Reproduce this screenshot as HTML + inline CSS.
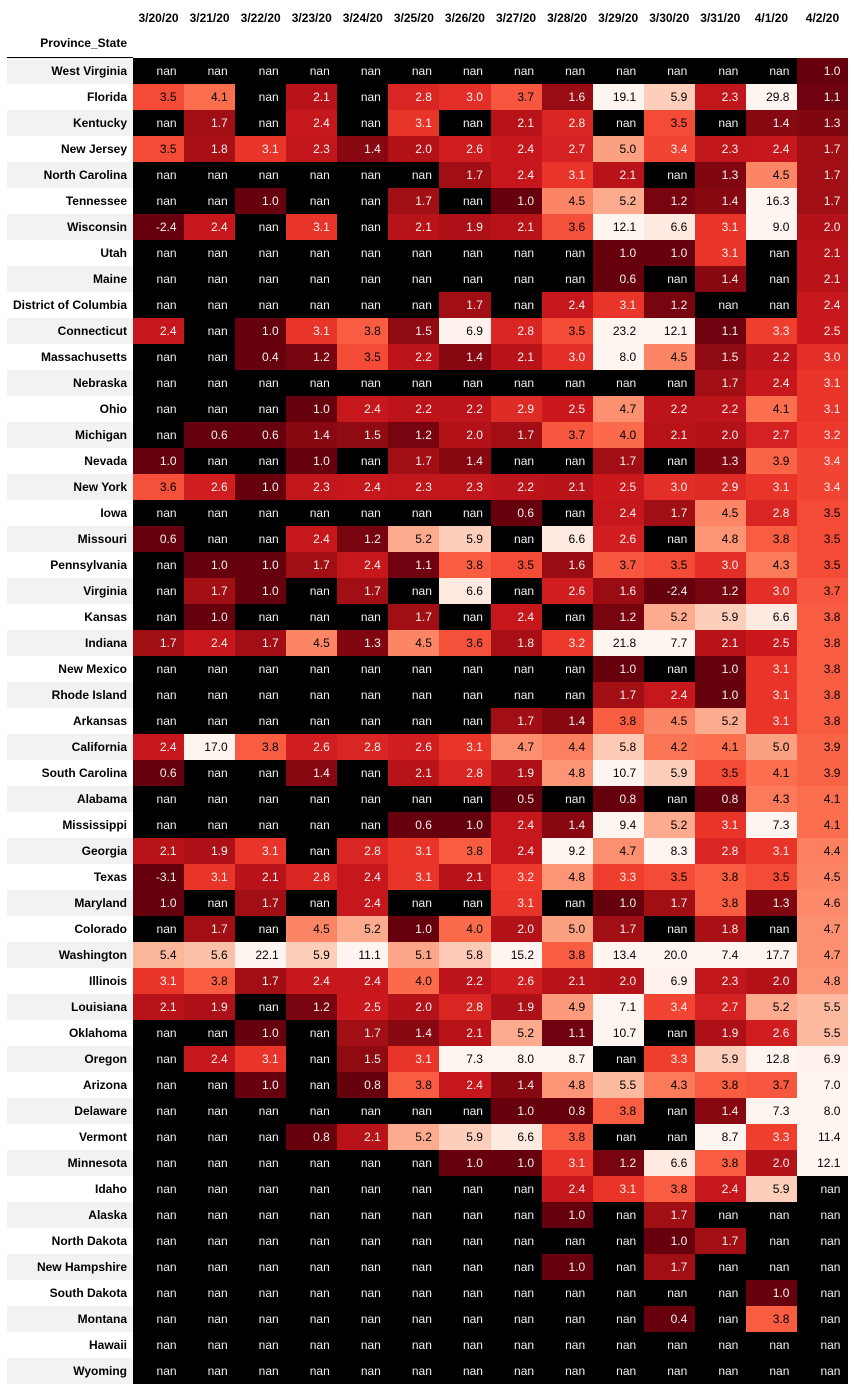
<!DOCTYPE html>
<html><head><meta charset="utf-8">
<style>
body{margin:0;width:854px;height:1390px;background:#fff;font-family:"Liberation Sans",Arial,sans-serif;position:relative;overflow:hidden}
.c{position:absolute;box-sizing:border-box;font-size:12px;line-height:26px;height:26px}
.h{position:absolute;font-size:12px;font-weight:bold;color:#000}
</style></head><body>
<div id="tbl"></div>
<script>
const dates=["3/20/20","3/21/20","3/22/20","3/23/20","3/24/20","3/25/20","3/26/20","3/27/20","3/28/20","3/29/20","3/30/20","3/31/20","4/1/20","4/2/20"];
const states=["West Virginia","Florida","Kentucky","New Jersey","North Carolina","Tennessee","Wisconsin","Utah","Maine","District of Columbia","Connecticut","Massachusetts","Nebraska","Ohio","Michigan","Nevada","New York","Iowa","Missouri","Pennsylvania","Virginia","Kansas","Indiana","New Mexico","Rhode Island","Arkansas","California","South Carolina","Alabama","Mississippi","Georgia","Texas","Maryland","Colorado","Washington","Illinois","Louisiana","Oklahoma","Oregon","Arizona","Delaware","Vermont","Minnesota","Idaho","Alaska","North Dakota","New Hampshire","South Dakota","Montana","Hawaii","Wyoming"];
const n=null;
const values=[
[n,n,n,n,n,n,n,n,n,n,n,n,n,1.0],
[3.5,4.1,n,2.1,n,2.8,3.0,3.7,1.6,19.1,5.9,2.3,29.8,1.1],
[n,1.7,n,2.4,n,3.1,n,2.1,2.8,n,3.5,n,1.4,1.3],
[3.5,1.8,3.1,2.3,1.4,2.0,2.6,2.4,2.7,5.0,3.4,2.3,2.4,1.7],
[n,n,n,n,n,n,1.7,2.4,3.1,2.1,n,1.3,4.5,1.7],
[n,n,1.0,n,n,1.7,n,1.0,4.5,5.2,1.2,1.4,16.3,1.7],
[-2.4,2.4,n,3.1,n,2.1,1.9,2.1,3.6,12.1,6.6,3.1,9.0,2.0],
[n,n,n,n,n,n,n,n,n,1.0,1.0,3.1,n,2.1],
[n,n,n,n,n,n,n,n,n,0.6,n,1.4,n,2.1],
[n,n,n,n,n,n,1.7,n,2.4,3.1,1.2,n,n,2.4],
[2.4,n,1.0,3.1,3.8,1.5,6.9,2.8,3.5,23.2,12.1,1.1,3.3,2.5],
[n,n,0.4,1.2,3.5,2.2,1.4,2.1,3.0,8.0,4.5,1.5,2.2,3.0],
[n,n,n,n,n,n,n,n,n,n,n,1.7,2.4,3.1],
[n,n,n,1.0,2.4,2.2,2.2,2.9,2.5,4.7,2.2,2.2,4.1,3.1],
[n,0.6,0.6,1.4,1.5,1.2,2.0,1.7,3.7,4.0,2.1,2.0,2.7,3.2],
[1.0,n,n,1.0,n,1.7,1.4,n,n,1.7,n,1.3,3.9,3.4],
[3.6,2.6,1.0,2.3,2.4,2.3,2.3,2.2,2.1,2.5,3.0,2.9,3.1,3.4],
[n,n,n,n,n,n,n,0.6,n,2.4,1.7,4.5,2.8,3.5],
[0.6,n,n,2.4,1.2,5.2,5.9,n,6.6,2.6,n,4.8,3.8,3.5],
[n,1.0,1.0,1.7,2.4,1.1,3.8,3.5,1.6,3.7,3.5,3.0,4.3,3.5],
[n,1.7,1.0,n,1.7,n,6.6,n,2.6,1.6,-2.4,1.2,3.0,3.7],
[n,1.0,n,n,n,1.7,n,2.4,n,1.2,5.2,5.9,6.6,3.8],
[1.7,2.4,1.7,4.5,1.3,4.5,3.6,1.8,3.2,21.8,7.7,2.1,2.5,3.8],
[n,n,n,n,n,n,n,n,n,1.0,n,1.0,3.1,3.8],
[n,n,n,n,n,n,n,n,n,1.7,2.4,1.0,3.1,3.8],
[n,n,n,n,n,n,n,1.7,1.4,3.8,4.5,5.2,3.1,3.8],
[2.4,17.0,3.8,2.6,2.8,2.6,3.1,4.7,4.4,5.8,4.2,4.1,5.0,3.9],
[0.6,n,n,1.4,n,2.1,2.8,1.9,4.8,10.7,5.9,3.5,4.1,3.9],
[n,n,n,n,n,n,n,0.5,n,0.8,n,0.8,4.3,4.1],
[n,n,n,n,n,0.6,1.0,2.4,1.4,9.4,5.2,3.1,7.3,4.1],
[2.1,1.9,3.1,n,2.8,3.1,3.8,2.4,9.2,4.7,8.3,2.8,3.1,4.4],
[-3.1,3.1,2.1,2.8,2.4,3.1,2.1,3.2,4.8,3.3,3.5,3.8,3.5,4.5],
[1.0,n,1.7,n,2.4,n,n,3.1,n,1.0,1.7,3.8,1.3,4.6],
[n,1.7,n,4.5,5.2,1.0,4.0,2.0,5.0,1.7,n,1.8,n,4.7],
[5.4,5.6,22.1,5.9,11.1,5.1,5.8,15.2,3.8,13.4,20.0,7.4,17.7,4.7],
[3.1,3.8,1.7,2.4,2.4,4.0,2.2,2.6,2.1,2.0,6.9,2.3,2.0,4.8],
[2.1,1.9,n,1.2,2.5,2.0,2.8,1.9,4.9,7.1,3.4,2.7,5.2,5.5],
[n,n,1.0,n,1.7,1.4,2.1,5.2,1.1,10.7,n,1.9,2.6,5.5],
[n,2.4,3.1,n,1.5,3.1,7.3,8.0,8.7,n,3.3,5.9,12.8,6.9],
[n,n,1.0,n,0.8,3.8,2.4,1.4,4.8,5.5,4.3,3.8,3.7,7.0],
[n,n,n,n,n,n,n,1.0,0.8,3.8,n,1.4,7.3,8.0],
[n,n,n,0.8,2.1,5.2,5.9,6.6,3.8,n,n,8.7,3.3,11.4],
[n,n,n,n,n,n,1.0,1.0,3.1,1.2,6.6,3.8,2.0,12.1],
[n,n,n,n,n,n,n,n,2.4,3.1,3.8,2.4,5.9,n],
[n,n,n,n,n,n,n,n,1.0,n,1.7,n,n,n],
[n,n,n,n,n,n,n,n,n,n,1.0,1.7,n,n],
[n,n,n,n,n,n,n,n,1.0,n,1.7,n,n,n],
[n,n,n,n,n,n,n,n,n,n,n,n,1.0,n],
[n,n,n,n,n,n,n,n,n,n,0.4,n,3.8,n],
[n,n,n,n,n,n,n,n,n,n,n,n,n,n],
[n,n,n,n,n,n,n,n,n,n,n,n,n,n]
];
const stops=["#fff5f0","#fee0d2","#fcbba1","#fc9272","#fb6a4a","#ef3b2c","#cb181d","#a50f15","#67000d"];
const VMIN=1.0,VMAX=7.0;
function hex(h){return [1,3,5].map(i=>parseInt(h.substr(i,2),16));}
function color(v){
  let t=Math.max(0,Math.min(1,(v-VMIN)/(VMAX-VMIN)));
  let p=(1-t)*(stops.length-1);let i=Math.min(Math.floor(p),stops.length-2);let f=p-i;
  const a=hex(stops[i]),b=hex(stops[i+1]);
  return a.map((x,k)=>Math.round(x+(b[k]-x)*f));
}
function lum(c){const l=c.map(x=>{x/=255;return x<=0.03928?x/12.92:Math.pow((x+0.055)/1.055,2.4)});return 0.2126*l[0]+0.7152*l[1]+0.0722*l[2];}
const X0=133,CW=(848-133)/14,Y0=58,RH=26;
const xs=i=>X0+i*CW, ys=j=>Y0+j*RH;
const root=document.getElementById('tbl');
dates.forEach((d,i)=>{
  const el=document.createElement('div');el.className='h';
  
  
  el.style.left=xs(i)+'px';el.style.width=CW+'px';el.style.textAlign='center';el.style.top='11px';
  el.textContent=d;root.appendChild(el);
});
const ih=document.createElement('div');ih.className='h';


ih.style.left='7px';ih.style.width='120px';ih.style.textAlign='right';ih.style.top='36px';
ih.textContent='Province_State';root.appendChild(ih);
const ln=document.createElement('div');


ln.style.cssText='position:absolute;left:7px;width:126px;top:57px;height:1px;background:#000';root.appendChild(ln);
states.forEach((s,j)=>{
  const r=document.createElement('div');r.className='c';
  
  
  r.style.cssText+=`left:7px;width:126px;top:${ys(j)}px;text-align:right;padding-right:6px;font-weight:bold;background:${j%2==0?'#f2f2f2':'#fff'}`;
  r.textContent=s;root.appendChild(r);
  values[j].forEach((v,i)=>{
    const c=document.createElement('div');c.className='c';
    
    
    let bg='#000',fg='#f1f1f1';
    if(v!==null){const col=color(v);bg=`rgb(${col.join(',')})`;fg=lum(col)>0.239?'#000':'#f1f1f1';}
    c.style.cssText+=`left:${xs(i)}px;width:${CW+0.5}px;top:${ys(j)}px;background:${bg};color:${fg};text-align:right;padding-right:8px`;
    c.textContent=v===null?'nan':v.toFixed(1);root.appendChild(c);
  });
});
</script>
</body></html>
